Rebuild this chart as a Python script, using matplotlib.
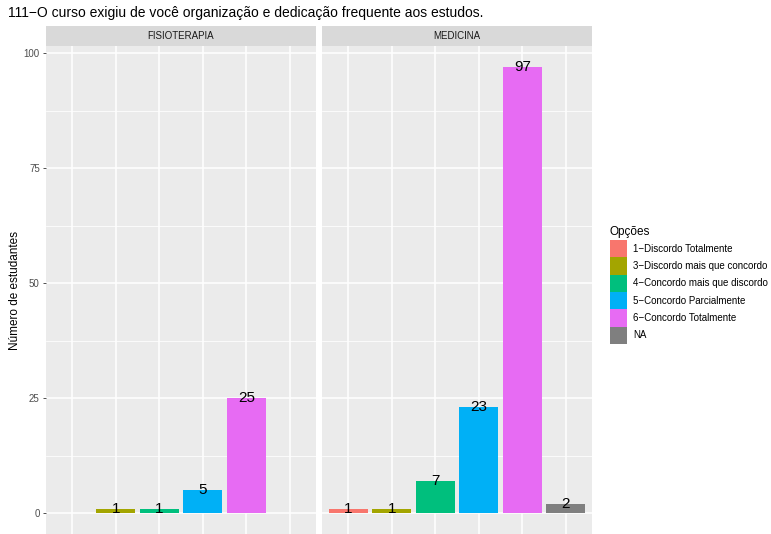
import matplotlib
matplotlib.use("Agg")
import matplotlib.pyplot as plt
from matplotlib.patches import Rectangle

title = "111\u2212O curso exigiu de você organização e dedicação frequente aos estudos."
categories = ["1\u2212Discordo Totalmente", "3\u2212Discordo mais que concordo",
              "4\u2212Concordo mais que discordo", "5\u2212Concordo Parcialmente",
              "6\u2212Concordo Totalmente", "NA"]
colors = ["#F8766D", "#A3A500", "#00BF7D", "#00B0F6", "#E76BF3", "#7F7F7F"]
panels = ["FISIOTERAPIA", "MEDICINA"]
fisio_values = [0, 1, 1, 5, 25, 0]
medicina_values = [1, 1, 7, 23, 97, 2]
panel_values = [fisio_values, medicina_values]
yticks = [0, 25, 50, 75, 100]

W, H = 771, 534
fig = plt.figure(figsize=(W / 100, H / 100), dpi=100)
plt.rcParams['font.family'] = ['Liberation Sans', 'DejaVu Sans']

def fx(px):
    return px / W

def fy(py):
    return 1 - py / H

panel_left = [46, 322]
panel_w = 270
panel_top, panel_bot = 46, 534
strip_top = 26

ylo = -(534 - 513.3) / 4.6
yhi = 100 + (53.3 - 46) / 4.6

for i, (name, vals) in enumerate(zip(panels, panel_values)):
    ax = fig.add_axes([fx(panel_left[i]), fy(panel_bot), panel_w / W, (panel_bot - panel_top) / H])
    ax.set_facecolor("#EBEBEB")
    for s in ax.spines.values():
        s.set_visible(False)
    ax.set_xlim(0.4, 6.6)
    ax.set_ylim(ylo, yhi)
    for yv in [12.5, 37.5, 62.5, 87.5]:
        ax.axhline(yv, color="white", lw=0.55, zorder=0)
    for yv in yticks:
        ax.axhline(yv, color="white", lw=1.1, zorder=0)
    for xv in range(1, 7):
        ax.axvline(xv, color="white", lw=1.1, zorder=0)
    xs = list(range(1, 7))
    for x, v, c in zip(xs, vals, colors):
        if v > 0:
            ax.bar(x, v, width=0.9, color=c, zorder=2)
            ax.text(x, v, str(v), ha="center", va="center", fontsize=11, color="black", zorder=3)
    ax.set_xticks([])
    if i == 0:
        ax.set_yticks(yticks)
        ax.set_yticklabels([str(t) for t in yticks], fontsize=7, color="#4D4D4D")
        ax.tick_params(axis="y", length=2.5, width=0.6, color="#333333", pad=2)
    else:
        ax.set_yticks([])
    # strip
    sax = fig.add_axes([fx(panel_left[i]), fy(panel_top), panel_w / W, (panel_top - strip_top) / H])
    sax.set_facecolor("#D9D9D9")
    sax.set_xticks([]); sax.set_yticks([])
    for s in sax.spines.values():
        s.set_visible(False)
    sax.text(0.5, 0.5, name, ha="center", va="center", fontsize=7, color="#1A1A1A",
             transform=sax.transAxes)

fig.text(fx(8), fy(13), title, fontsize=10, ha="left", va="center", color="black")
fig.text(fx(15), fy(290), "Número de estudantes", rotation=90, fontsize=8.5,
         ha="center", va="center", color="black")

# legend
fig.text(fx(610), fy(232), "Opções", fontsize=8.5, ha="left", va="center", color="black")
key_top = 240
key_h = 17.3
for j, (lab, c) in enumerate(zip(categories, colors)):
    y0 = key_top + j * key_h
    fig.patches.append(Rectangle((fx(610), fy(y0 + key_h)), 17 / W, key_h / H,
                                 transform=fig.transFigure, facecolor=c, edgecolor="none"))
    fig.text(fx(633), fy(y0 + key_h / 2), lab, fontsize=7, ha="left", va="center", color="black")

fig.savefig("out.png", dpi=100)
